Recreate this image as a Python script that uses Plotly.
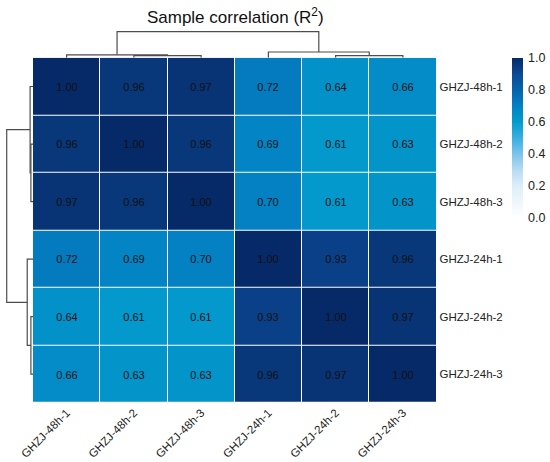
import plotly.graph_objects as go

samples = ["GHZJ-48h-1", "GHZJ-48h-2", "GHZJ-48h-3",
           "GHZJ-24h-1", "GHZJ-24h-2", "GHZJ-24h-3"]

r2_48h_1 = [1.00, 0.96, 0.97, 0.72, 0.64, 0.66]
r2_48h_2 = [0.96, 1.00, 0.96, 0.69, 0.61, 0.63]
r2_48h_3 = [0.97, 0.96, 1.00, 0.70, 0.61, 0.63]
r2_24h_1 = [0.72, 0.69, 0.70, 1.00, 0.93, 0.96]
r2_24h_2 = [0.64, 0.61, 0.61, 0.93, 1.00, 0.97]
r2_24h_3 = [0.66, 0.63, 0.63, 0.96, 0.97, 1.00]

# linkage (scipy style: leaves 0-5, new nodes 6..10), heights relative to root
merge_a = [1, 0, 4, 3, 7]
merge_b = [2, 6, 5, 8, 9]
merge_h = [0.08, 0.11, 0.08, 0.22, 1.00]

z = [r2_48h_1, r2_48h_2, r2_48h_3, r2_24h_1, r2_24h_2, r2_24h_3]
idx = list(range(len(samples)))

W, H = 550, 462
FONT = "Liberation Sans, Arial, sans-serif"


def px_x(p):
    return p / W


def px_y(p):
    return 1 - p / H


def dendro(n, a_list, b_list, h_list):
    pos = list(range(n))
    hgt = [0.0] * n
    xs, ys = [], []
    for a, b, h in zip(a_list, b_list, h_list):
        xs += [pos[a], pos[a], pos[b], pos[b], None]
        ys += [hgt[a], h, h, hgt[b], None]
        pos.append((pos[a] + pos[b]) / 2)
        hgt.append(h)
    return xs, ys


dx, dy = dendro(len(samples), merge_a, merge_b, merge_h)

blues = [
    [0.0, "#ffffff"], [0.2, "#ddeef9"], [0.3, "#b5dcf2"], [0.4, "#7cc4ea"],
    [0.5, "#3aaee0"], [0.6, "#039ccd"], [0.7, "#0381c3"], [0.8, "#0564ab"],
    [0.9, "#0b4a94"], [1.0, "#062a68"],
]

hm_x = [px_x(33), px_x(436.5)]
hm_y = [px_y(403), px_y(57.7)]

fig = go.Figure()

fig.add_trace(go.Heatmap(
    z=z, x=idx, y=idx, zmin=0, zmax=1, colorscale=blues,
    xgap=1, ygap=1, texttemplate="%{z:.2f}",
    textfont=dict(size=11, color="#111111", family=FONT),
    colorbar=dict(
        x=px_x(511.7), xanchor="left", y=px_y(58), yanchor="top",
        len=160, lenmode="pixels", thickness=11, outlinewidth=0,
        xpad=0, ypad=0,
        tick0=0, dtick=0.2, tickformat=".1f",
        ticks="outside", ticklen=3, tickcolor="rgba(0,0,0,0)",
        tickfont=dict(size=12.5, color="#222222", family=FONT),
    ),
))

line = dict(color="#4d4d4d", width=1.2)
fig.add_trace(go.Scatter(x=dx, y=dy, mode="lines", line=line,
                         xaxis="x2", yaxis="y2", hoverinfo="skip"))
fig.add_trace(go.Scatter(x=dy, y=dx, mode="lines", line=line,
                         xaxis="x3", yaxis="y3", hoverinfo="skip"))

fig.update_layout(
    width=W, height=H,
    margin=dict(l=0, r=0, t=0, b=0, autoexpand=False),
    paper_bgcolor="white", plot_bgcolor="white",
    showlegend=False,
    font=dict(family=FONT, color="#222222"),
    title=dict(text="Sample correlation (R<sup>2</sup>)",
               x=px_x(235.3), xanchor="center",
               y=px_y(17), yanchor="middle", automargin=False,
               font=dict(size=17, color="#111111", family=FONT)),
    xaxis=dict(domain=hm_x, range=[-0.5, 5.5], tickvals=idx, ticktext=samples,
               tickangle=-45, ticks="", showgrid=False, zeroline=False,
               showline=False, automargin=False, ticklabeloverflow="allow",
               tickfont=dict(size=11.5, color="#222222")),
    yaxis=dict(domain=hm_y, range=[5.5, -0.5], tickvals=idx, ticktext=samples,
               side="right", ticks="", showgrid=False, zeroline=False,
               showline=False, automargin=False, ticklabeloverflow="allow",
               ticklabelstandoff=2,
               tickfont=dict(size=11.5, color="#222222")),
    xaxis2=dict(domain=hm_x, range=[-0.5, 5.5], visible=False),
    yaxis2=dict(domain=[px_y(57.7), px_y(30.4)], range=[0, 1.05], visible=False),
    xaxis3=dict(domain=[px_x(5.4), px_x(33)], range=[1.05, 0], visible=False),
    yaxis3=dict(domain=hm_y, range=[5.5, -0.5], visible=False),
)

fig.write_html("out.html", config={"displayModeBar": False},
               post_script="document.body.style.margin = '0';")
